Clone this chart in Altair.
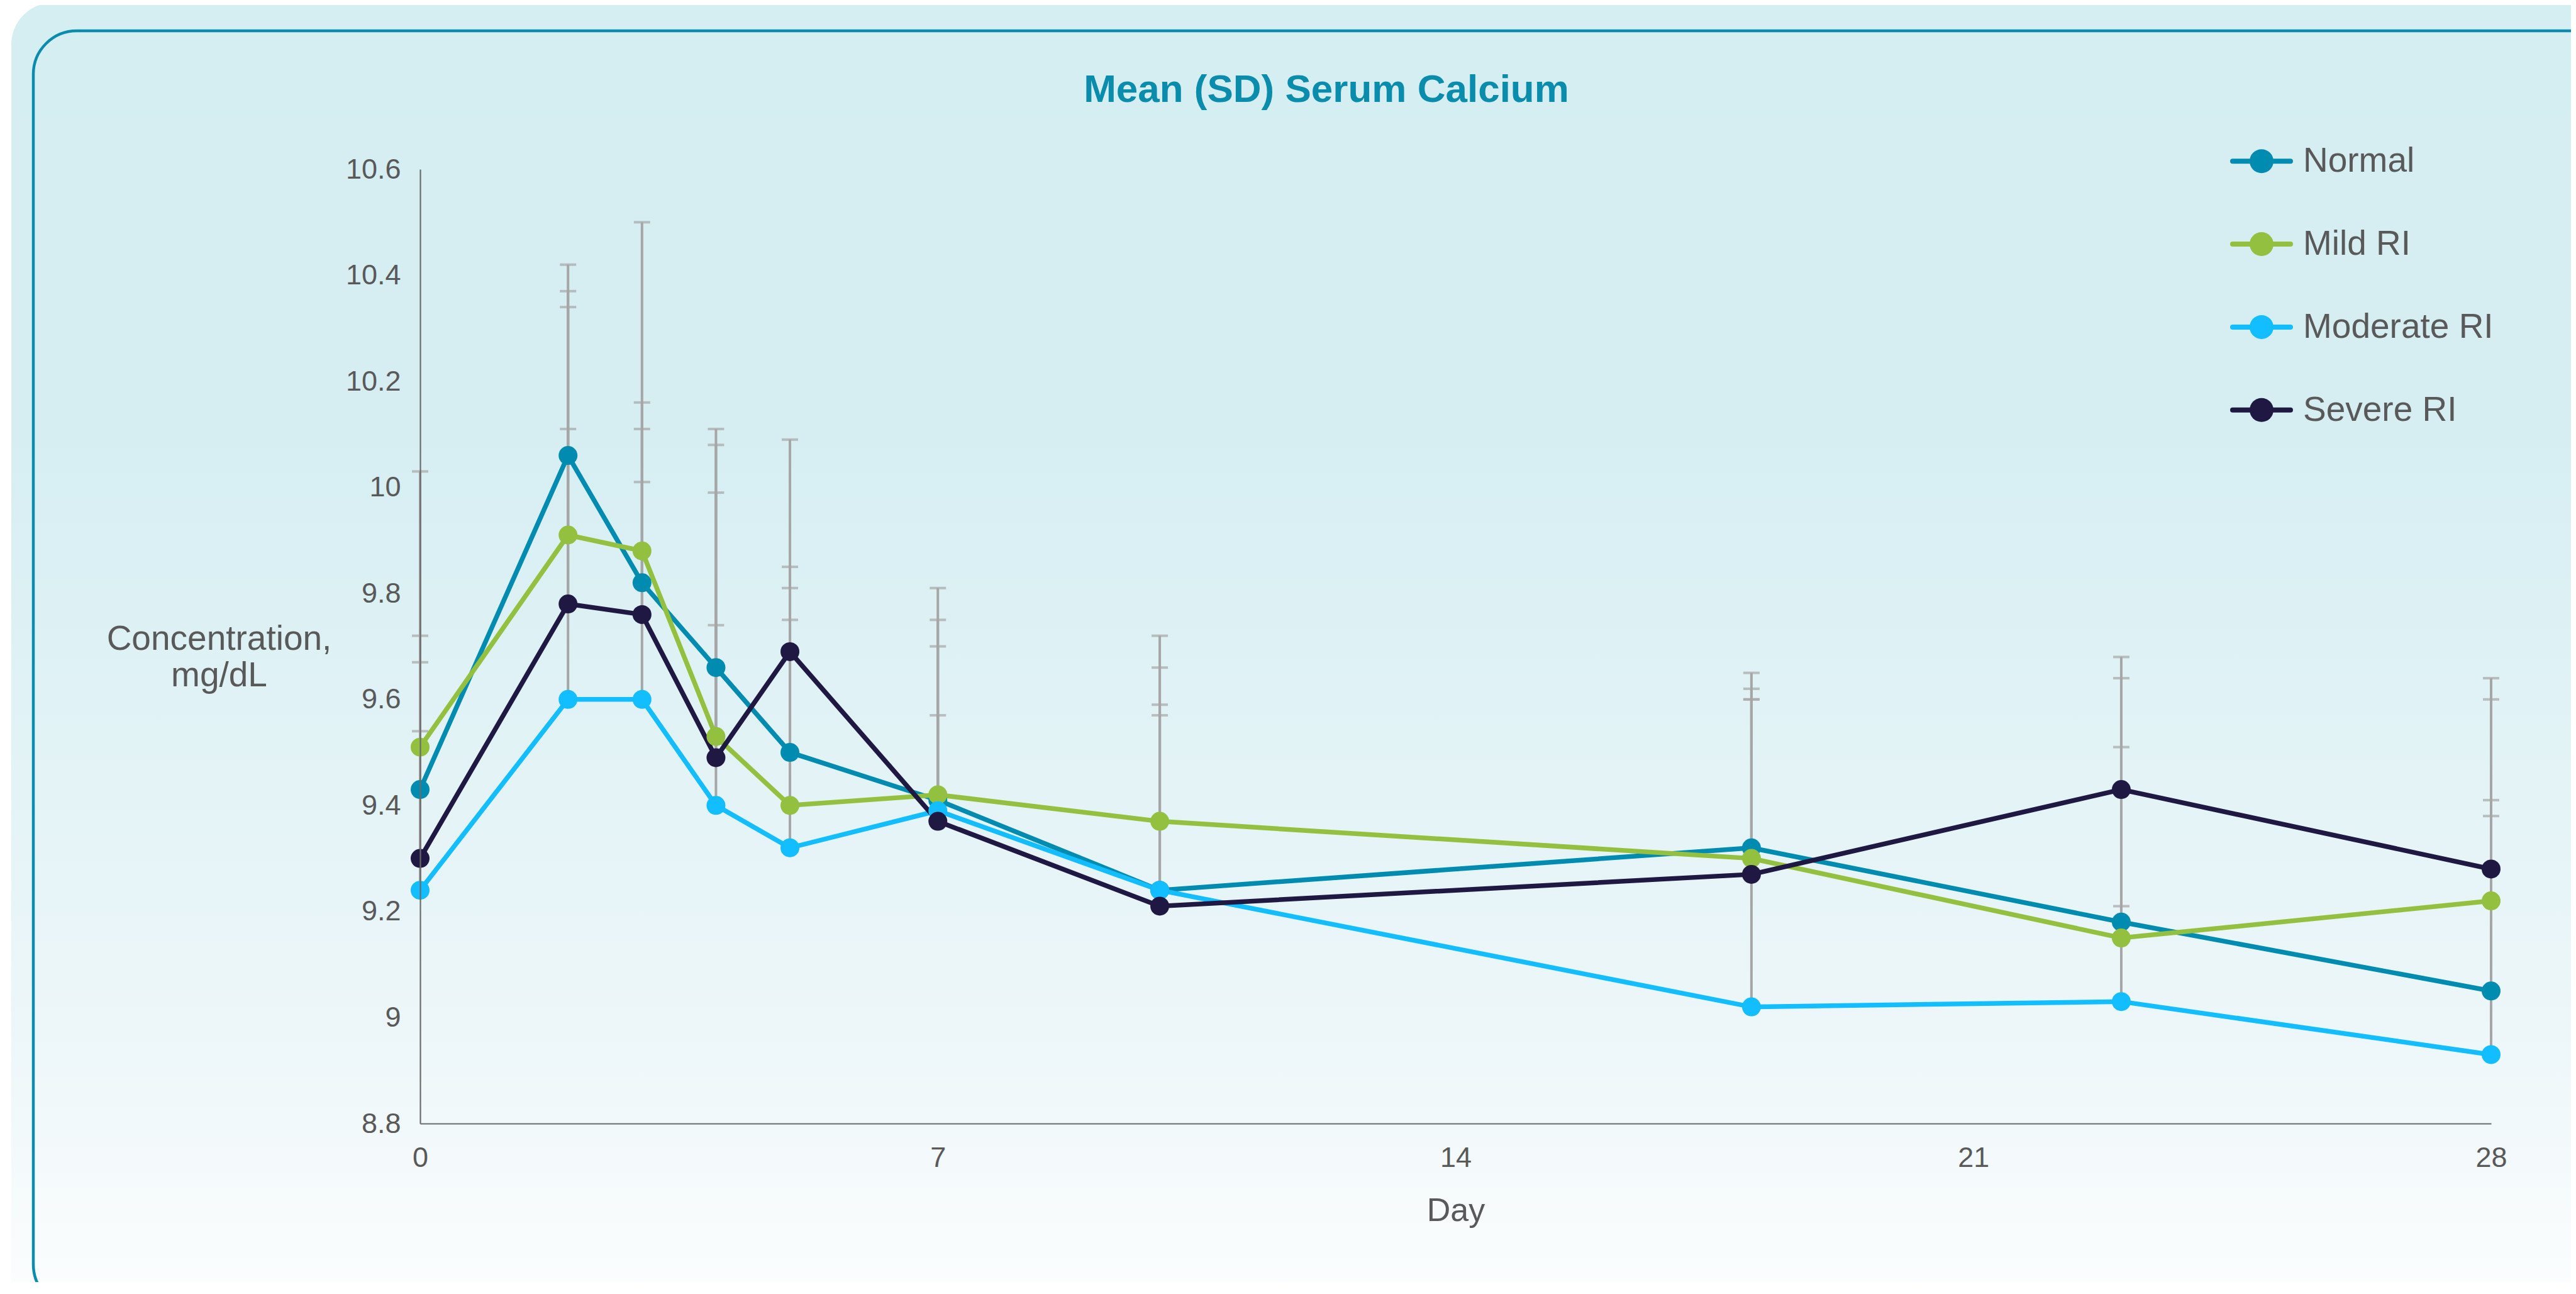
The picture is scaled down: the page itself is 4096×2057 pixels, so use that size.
import altair as alt
import pandas as pd

# ---------------- data ----------------
days = [0, 2, 3, 4, 5, 7, 10, 18, 23, 28]
series = ["Normal", "Mild RI", "Moderate RI", "Severe RI"]
colors = ["#008CB0", "#93C13F", "#12BEFF", "#1F1842"]

normal_mean   = [9.43, 10.06, 9.82, 9.66, 9.50, 9.41, 9.24, 9.32, 9.18, 9.05]
mild_mean     = [9.51, 9.91, 9.88, 9.53, 9.40, 9.42, 9.37, 9.30, 9.15, 9.22]
moderate_mean = [9.24, 9.60, 9.60, 9.40, 9.32, 9.39, 9.24, 9.02, 9.03, 8.93]
severe_mean   = [9.30, 9.78, 9.76, 9.49, 9.69, 9.37, 9.21, 9.27, 9.43, 9.28]

# mean + SD (upper end of each error bar)
normal_upper   = [9.72, 10.42, 10.16, 10.11, 9.85, 9.75, 9.59, 9.65, 9.51, 9.38]
mild_upper     = [10.03, 10.37, 10.50, 10.08, 9.75, 9.81, 9.72, 9.62, 9.64, 9.60]
moderate_upper = [9.54, 10.11, 10.01, 9.74, 9.81, 9.57, 9.57, 9.60, 9.21, 9.41]
severe_upper   = [9.67, 10.34, 10.11, 9.99, 10.09, 9.70, 9.66, 9.60, 9.68, 9.64]

x_ticks = [0, 7, 14, 21, 28]
y_ticks = [8.8, 9.0, 9.2, 9.4, 9.6, 9.8, 10.0, 10.2, 10.4, 10.6]

title_text = "Mean (SD) Serum Calcium"
x_title = "Day"
y_title = ["Concentration,", "mg/dL"]

means = [normal_mean, mild_mean, moderate_mean, severe_mean]
uppers = [normal_upper, mild_upper, moderate_upper, severe_upper]

rows = []
for s, m, u in zip(series, means, uppers):
    for d, mv, uv in zip(days, m, u):
        rows.append({"series": s, "day": d, "mean": mv, "upper": uv})
df = pd.DataFrame(rows)

# ---------------- layout (output px) ----------------
FONT = "Liberation Sans"
TXT = "#595959"
PW, PH = 3293, 1517
PAD_L, PAD_T = 660, 261
CW, CH = 4080, 2030

one = pd.DataFrame({"k": [0]})

bg = alt.Chart(one).mark_rect(
    cornerRadius=66,
    fill=alt.LinearGradient(
        gradient="linear",
        stops=[
            alt.GradientStop(offset=0.0, color="#D5EEF2"),
            alt.GradientStop(offset=0.33, color="#D6EEF2"),
            alt.GradientStop(offset=0.47, color="#DDF1F4"),
            alt.GradientStop(offset=0.80, color="#EEF7F9"),
            alt.GradientStop(offset=1.0, color="#FDFEFE"),
        ],
        x1=0, x2=0, y1=0, y2=1,
    ),
).encode(
    x=alt.value(10 - PAD_L), x2=alt.value(5000),
    y=alt.value(-3.5 - PAD_T), y2=alt.value(2100 - PAD_T),
)

border = alt.Chart(one).mark_rect(
    cornerRadius=69, fill="#ffffff", fillOpacity=0,
    stroke="#0A8CAF", strokeWidth=4.5,
).encode(
    x=alt.value(45 - PAD_L), x2=alt.value(5000),
    y=alt.value(41 - PAD_T), y2=alt.value(2071 - PAD_T),
)

title = alt.Chart(pd.DataFrame({"t": [title_text]})).mark_text(
    font=FONT, fontSize=62, fontWeight="bold", color="#0A8CAD",
    align="center", baseline="alphabetic",
).encode(x=alt.value(1441), y=alt.value(-107), text="t:N")

color_enc = alt.Color("series:N", scale=alt.Scale(domain=series, range=colors), legend=None)

x_enc = alt.X(
    "day:Q",
    scale=alt.Scale(domain=[0, 28], nice=False, zero=False),
    axis=alt.Axis(
        values=x_ticks, title=x_title, grid=False, ticks=False, tickSize=0,
        labelFlush=False, labelOverlap=False, labelPadding=32,
        labelFontSize=45, labelFont=FONT, labelColor=TXT,
        titleFont=FONT, titleFontSize=52, titleFontWeight="normal", titleColor=TXT,
        titleY=154, titleBaseline="alphabetic",
        domainColor="#6B6B6B", domainWidth=2.2, zindex=1,
    ),
)
y_axis = alt.Axis(
    values=y_ticks, format="~g", title=y_title, grid=False, ticks=False, tickSize=0,
    labelFlush=False, labelOverlap=False, labelPadding=31,
    labelFontSize=45, labelFont=FONT, labelColor=TXT,
    titleFont=FONT, titleFontSize=55, titleFontWeight="normal", titleColor=TXT,
    titleAngle=0, titleAlign="center", titleBaseline="alphabetic",
    titleX=-320, titleY=763, titleLineHeight=58,
    domainColor="#6B6B6B", domainWidth=2.2, zindex=1,
)
y_scale = alt.Scale(domain=[8.8, 10.6], nice=False, zero=False)

base = alt.Chart(df)

err = base.mark_rule(color="#A6A6A6", strokeWidth=4).encode(
    x=x_enc,
    y=alt.Y("mean:Q", scale=y_scale, axis=y_axis),
    y2="upper:Q",
)
caps = base.mark_tick(color="#A6A6A6", thickness=4, size=26, orient="horizontal").encode(
    x=x_enc,
    y=alt.Y("upper:Q", scale=y_scale, axis=y_axis),
)
lines = base.mark_line(strokeWidth=7.5).encode(
    x=x_enc,
    y=alt.Y("mean:Q", scale=y_scale, axis=y_axis),
    color=color_enc,
)
points = base.mark_point(filled=True, size=900, opacity=1).encode(
    x=x_enc,
    y=alt.Y("mean:Q", scale=y_scale, axis=y_axis),
    color=color_enc,
)
main = alt.layer(err, caps, lines, points)

# ---------------- legend ----------------
leg_df = pd.DataFrame({"series": series})
leg_y = alt.Y(
    "series:N",
    scale=alt.Scale(type="point", domain=series, range=[-12.8, 382.8], padding=0),
    axis=None,
)
leg_base = alt.Chart(leg_df)
leg_lines = leg_base.mark_rule(strokeWidth=8, strokeCap="round").encode(
    x=alt.value(2882), x2=alt.value(2974), y=leg_y, color=color_enc,
)
leg_pts = leg_base.mark_point(filled=True, size=1444, opacity=1).encode(
    x=alt.value(2928), y=leg_y, color=color_enc,
)
leg_txt = leg_base.mark_text(
    align="left", baseline="middle", font=FONT, fontSize=55, color=TXT,
).encode(x=alt.value(2994), y=leg_y, text="series:N")
legend = alt.layer(leg_lines, leg_pts, leg_txt)

chart = alt.layer(bg, border, title, main, legend).resolve_scale(
    y="independent"
).properties(
    width=PW, height=PH,
    padding={"left": PAD_L, "top": PAD_T, "right": CW - PAD_L - PW, "bottom": CH - PAD_T - PH},
    autosize="none",
    background="#ffffff",
).configure_view(strokeWidth=0)

chart.save("out.html", embed_options={"renderer": "svg", "actions": False})
